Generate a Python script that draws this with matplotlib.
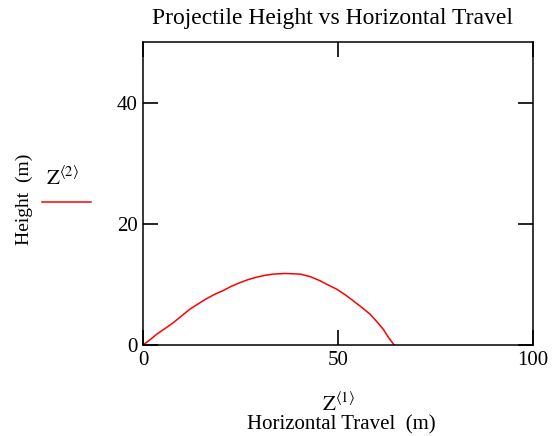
import matplotlib
matplotlib.use("Agg")
import matplotlib.pyplot as plt

plt.rcParams['font.family'] = ['Liberation Serif', 'DejaVu Serif']
plt.rcParams['mathtext.fontset'] = 'stix'

# horizontal travel (m) and height (m)
travel = [0, 1.4, 3.5, 5.6, 7.8, 9.9, 12.0, 14.2, 16.3, 18.5, 20.6, 22.7,
          24.9, 27.0, 29.2, 31.3, 33.4, 36.5, 40.3, 42.8, 45.4, 47.5, 49.7,
          51.8, 53.9, 56.1, 58.2, 59.9, 61.6, 63.0, 64.4]
height = [0, 0.66, 1.77, 2.7, 3.7, 4.8, 5.9, 6.8, 7.65, 8.4, 9.0, 9.7,
          10.3, 10.8, 11.2, 11.5, 11.7, 11.8, 11.7, 11.3, 10.6, 9.9, 9.2,
          8.3, 7.3, 6.2, 5.1, 3.9, 2.6, 1.2, 0]

xticks = [0, 50, 100]
yticks = [0, 20, 40]

fig = plt.figure(figsize=(5.53, 4.36), dpi=100)
ax = fig.add_axes([143/553, 91/436, 390/553, 303/436])

ax.plot(travel, height, color='red', lw=1.1)

ax.set_xlim(0, 100)
ax.set_ylim(0, 50)
ax.set_xticks(xticks)
ax.set_yticks(yticks)
ax.tick_params(direction='in', length=11, width=1.2, top=True, right=True,
               labelsize=15, pad=4, colors='black')
for s in ax.spines.values():
    s.set_linewidth(1.1)

fig.text(333/553, 1 - 8/436, 'Projectile Height vs Horizontal Travel',
         ha='center', va='top', fontsize=17)

fig.text(338/553, 1 - 411/436, r'$\mathrm{Z}^{\langle 1\rangle}$',
         ha='center', va='baseline', fontsize=15)
fig.text(341/553, 1 - 429/436, 'Horizontal Travel  (m)',
         ha='center', va='baseline', fontsize=15)

fig.text(24/553, 1 - 199/436, 'Height  (m)', rotation=90,
         ha='center', va='center', fontsize=14)
fig.text(62/553, 1 - 178/436, r'$\mathrm{Z}^{\langle 2\rangle}$',
         ha='center', va='center', fontsize=15)
fig.add_artist(plt.Line2D([42/553, 91/553], [1 - 202/436, 1 - 202/436],
                          color='red', lw=1.1, transform=fig.transFigure))

fig.savefig('out.png', dpi=100)
